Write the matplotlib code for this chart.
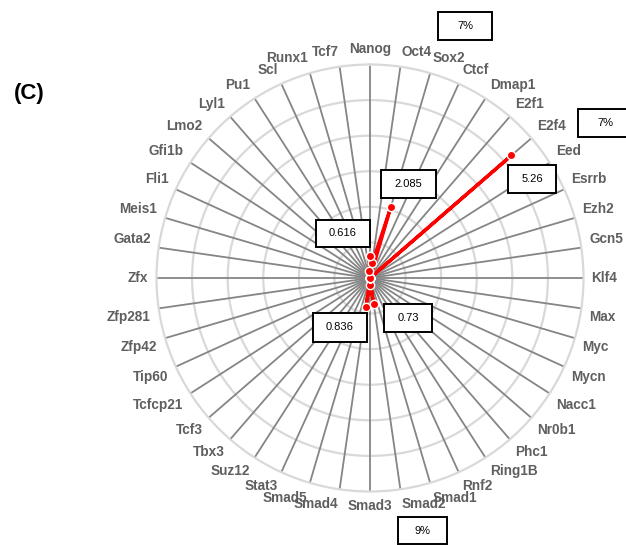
import numpy as np
import matplotlib
matplotlib.use("Agg")
import matplotlib.pyplot as plt
from matplotlib.patches import Rectangle
from matplotlib.transforms import offset_copy

# ---- data ----
categories = ["Nanog", "Oct4", "Sox2", "Ctcf", "Dmap1", "E2f1", "E2f4", "Eed", "Esrrb",
              "Ezh2", "Gcn5", "Klf4", "Max", "Myc", "Mycn", "Nacc1", "Nr0b1", "Phc1",
              "Ring1B", "Rnf2", "Smad1", "Smad2", "Smad3", "Smad4", "Smad5", "Stat3",
              "Suz12", "Tbx3", "Tcf3", "Tcfcp21", "Tip60", "Zfp42", "Zfp281", "Zfx",
              "Gata2", "Meis1", "Fli1", "Gfi1b", "Lmo2", "Lyl1", "Pu1", "Scl", "Runx1", "Tcf7"]
values = [0.616, 0.42, 2.085, 0, 0, 0, 5.26, 0, 0,
          0, 0, 0, 0, 0, 0, 0, 0, 0,
          0, 0, 0, 0.73, 0.2, 0.836, 0, 0,
          0, 0, 0, 0, 0, 0, 0, 0,
          0, 0, 0, 0, 0, 0, 0, 0, 0, 0.2]
r_max = 6
ring_ticks = [1, 2, 3, 4, 5, 6]

# annotation boxes: (text, left, top, right, bottom) in pixels of the 626x545 canvas
box_texts = ["7%", "7%", "5.26", "2.085", "0.616", "0.836", "0.73", "9%"]
box_px = [(438, 12, 492, 40), (578, 109, 632, 137), (508, 165, 556, 193),
          (381, 170, 436, 198), (316, 220, 370, 247), (313, 313, 367, 342),
          (384, 304, 432, 332), (398, 517, 447, 544)]

W, H = 626, 545
fig = plt.figure(figsize=(W / 100, H / 100), dpi=100)
fig.patch.set_facecolor("white")

cx, cy, R = 370, 278, 213.5
ax = fig.add_axes([(cx - R) / W, (H - cy - R) / H, 2 * R / W, 2 * R / H], projection="polar")
ax.set_theta_zero_location("N")
ax.set_theta_direction(-1)

n = len(categories)
theta = np.arange(n) * 2 * np.pi / n
ax.set_ylim(0, r_max)
ax.set_yticks(ring_ticks)
ax.set_yticklabels([])
ax.set_xticks(theta)
ax.set_xticklabels([])
ax.tick_params(axis="both", length=0)
ax.grid(False)
ax.spines["polar"].set_color("#d9d9d9")
ax.spines["polar"].set_linewidth(1.6)
ax.set_facecolor("white")

# rings
tt = np.linspace(0, 2 * np.pi, 400)
for r in ring_ticks[:-1]:
    ax.plot(tt, np.full_like(tt, r), color="#d9d9d9", lw=1.6, zorder=1)
# spokes
for t in theta:
    ax.plot([t, t], [0, r_max], color="#858585", lw=1.3, zorder=2)

# data line
th = np.append(theta, theta[0])
vv = np.append(values, values[0])
ax.plot(th, vv, color="#ff0000", lw=2.4, zorder=5, solid_joinstyle="round",
        marker="o", ms=6, mfc="#ff0000", mec="white", mew=1.0, clip_on=False)

# category labels
for t, lab in zip(theta, categories):
    s, c = np.sin(t), np.cos(t)
    ha = "center" if abs(s) < 1e-6 else ("left" if s > 0 else "right")
    va = "center" if abs(c) < 1e-6 else ("bottom" if c > 0 else "top")
    tr = offset_copy(ax.transData, fig=fig, x=8 * s, y=8 * c, units="dots")
    ax.text(t, r_max, lab, transform=tr, ha=ha, va=va, fontsize=9.8,
            fontweight="bold", color="#5f5f5f", family="Liberation Sans", clip_on=False)

# annotation boxes
for txt, (l, tp, rt, bt) in zip(box_texts, box_px):
    rect = Rectangle((l / W, 1 - bt / H), (rt - l) / W, (bt - tp) / H,
                     transform=fig.transFigure, facecolor="white", edgecolor="black",
                     lw=1.4, zorder=10)
    fig.add_artist(rect)
    fig.text(((l + rt) / 2) / W, 1 - ((tp + bt) / 2) / H, txt, ha="center", va="center",
             fontsize=8, color="black", family="Liberation Sans", zorder=11)

fig.text(29 / W, 1 - 93 / H, "(C)", ha="center", va="center", fontsize=16,
         fontweight="bold", color="black", family="Liberation Sans")

fig.savefig("out.png", dpi=100, facecolor="white")
